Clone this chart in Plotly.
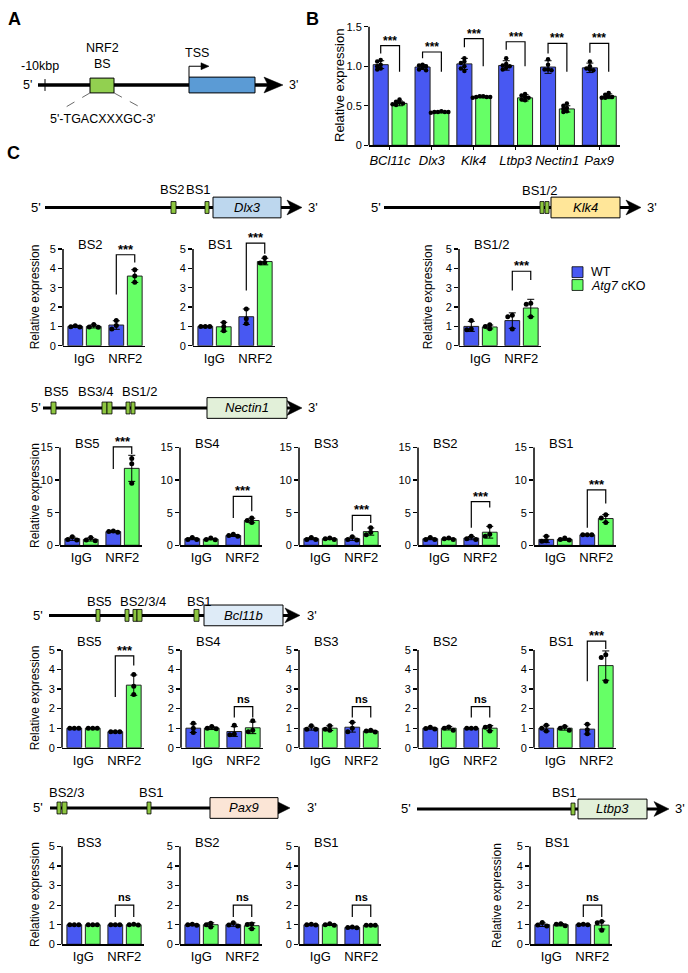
import plotly.graph_objects as go

W, H = 688, 973
FONT = "Liberation Sans, Arial, Helvetica, sans-serif"
BLUE = "#4858F2"
GREEN = "#66FF66"
EDGE = "#222222"
BS_GREEN = "#8DC63F"

# ======================= DATA =======================
# ---- Panel B ----
B_GENES = ["BCl11c", "Dlx3", "Klk4", "Ltbp3", "Nectin1", "Pax9"]
B_WT_MEAN = [1.02, 0.99, 1.03, 1.01, 0.99, 0.98]
B_KO_MEAN = [0.53, 0.42, 0.61, 0.60, 0.46, 0.62]
B_WT_SD = [0.05, 0.03, 0.07, 0.06, 0.08, 0.06]
B_KO_SD = [0.03, 0.01, 0.01, 0.04, 0.04, 0.03]
B_WT_PTS = [[1.08, 1.06, 1.02, 1.00, 0.97, 0.96],
            [1.02, 1.01, 1.00, 0.98, 0.96, 0.95],
            [1.10, 1.06, 1.04, 1.00, 0.97, 0.94],
            [1.10, 1.03, 1.01, 1.00, 0.98, 0.96],
            [1.09, 1.02, 0.96, 0.96, 0.95],
            [1.06, 1.00, 0.97, 0.96, 0.95]]
B_KO_PTS = [[0.58, 0.55, 0.54, 0.53, 0.52, 0.51],
            [0.43, 0.42, 0.42, 0.42, 0.42, 0.41],
            [0.62, 0.62, 0.61, 0.61, 0.61, 0.60],
            [0.65, 0.63, 0.61, 0.60, 0.58, 0.57],
            [0.53, 0.50, 0.47, 0.46, 0.43, 0.42],
            [0.66, 0.64, 0.62, 0.61, 0.60, 0.60]]
B_SIG = ["***", "***", "***", "***", "***", "***"]

# ---- Panel C (each entry: [IgG, NRF2]) ----
C_GROUPS = ["IgG", "NRF2"]

DLX3_SITES = ["BS2", "BS1"]
DLX3_WT = [[1.0, 1.07], [1.0, 1.5]]
DLX3_KO = [[1.0, 3.6], [0.98, 4.35]]
DLX3_WT_SD = [[0.05, 0.22], [0.03, 0.4]]
DLX3_KO_SD = [[0.08, 0.33], [0.23, 0.17]]
DLX3_WT_PTS = [[[1.03, 0.98, 0.97], [1.3, 1.05, 0.87]], [[1.0, 1.0, 1.0], [1.9, 1.4, 1.15]]]
DLX3_KO_PTS = [[[1.1, 0.97, 0.95], [3.92, 3.6, 3.28]], [[1.2, 0.98, 0.77], [4.55, 4.3, 4.28]]]
DLX3_SIG = ["***", "***"]

KLK4_SITES = ["BS1/2"]
KLK4_WT = [[1.0, 1.3]]
KLK4_KO = [[0.97, 1.95]]
KLK4_WT_SD = [[0.26, 0.4]]
KLK4_KO_SD = [[0.1, 0.45]]
KLK4_WT_PTS = [[[1.3, 0.87, 0.83], [1.57, 1.5, 0.87]]]
KLK4_KO_PTS = [[[1.08, 1.0, 0.88], [2.2, 2.15, 1.5]]]
KLK4_SIG = ["***"]

NECTIN1_SITES = ["BS5", "BS4", "BS3", "BS2", "BS1"]
NECTIN1_WT = [[1.0, 2.1], [1.0, 1.5], [1.0, 1.0], [1.0, 1.1], [0.9, 1.6]]
NECTIN1_KO = [[0.9, 11.8], [0.95, 3.8], [1.0, 2.1], [1.0, 2.0], [0.9, 4.1]]
NECTIN1_WT_SD = [[0.25, 0.1], [0.15, 0.15], [0.15, 0.25], [0.15, 0.25], [0.5, 0.05]]
NECTIN1_KO_SD = [[0.25, 2.0], [0.1, 0.35], [0.1, 0.55], [0.1, 0.9], [0.15, 0.6]]
NECTIN1_WT_PTS = [[[1.3, 0.9, 0.8], [2.2, 2.1, 2.0]],
                  [[1.2, 0.9, 0.9], [1.7, 1.5, 1.4]],
                  [[1.2, 0.9, 0.9], [1.3, 0.9, 0.8]],
                  [[1.2, 0.9, 0.9], [1.4, 1.0, 0.9]],
                  [[1.4, 0.7, 0.6], [1.6, 1.6, 1.6]]]
NECTIN1_KO_PTS = [[[1.2, 0.8, 0.7], [13.3, 12.5, 9.5]],
                  [[1.1, 0.9, 0.85], [4.2, 3.8, 3.5]],
                  [[1.1, 1.0, 0.9], [2.7, 2.0, 1.6]],
                  [[1.1, 1.0, 0.9], [2.9, 1.7, 1.4]],
                  [[1.1, 0.9, 0.8], [4.7, 4.2, 3.5]]]
NECTIN1_SIG = ["***", "***", "***", "***", "***"]

BCL11B_SITES = ["BS5", "BS4", "BS3", "BS2", "BS1"]
BCL11B_WT = [[1.0, 0.82], [1.0, 0.83], [1.0, 1.05], [1.0, 1.0], [1.0, 0.95]]
BCL11B_KO = [[1.0, 3.2], [1.0, 1.02], [1.0, 0.85], [1.0, 1.0], [1.0, 4.2]]
BCL11B_WT_SD = [[0.02, 0.02], [0.22, 0.25], [0.1, 0.25], [0.05, 0.01], [0.15, 0.25]]
BCL11B_KO_SD = [[0.02, 0.52], [0.07, 0.3], [0.12, 0.05], [0.09, 0.13], [0.1, 0.75]]
BCL11B_WT_PTS = [[[1.0, 1.0, 1.0], [0.82, 0.82, 0.82]],
                 [[1.25, 1.0, 0.78], [1.15, 0.7, 0.66]],
                 [[1.12, 0.95, 0.94], [1.3, 1.0, 0.82]],
                 [[1.05, 0.98, 0.96], [1.0, 1.0, 1.0]],
                 [[1.15, 1.0, 0.85], [1.2, 0.92, 0.72]]]
BCL11B_KO_PTS = [[[1.0, 1.0, 1.0], [3.75, 3.15, 2.72]],
                 [[1.08, 1.0, 0.97], [1.38, 0.9, 0.82]],
                 [[1.12, 0.95, 0.9], [0.9, 0.85, 0.8]],
                 [[1.06, 1.0, 0.9], [1.1, 1.05, 0.85]],
                 [[1.08, 1.0, 0.9], [4.75, 4.62, 3.4]]]
BCL11B_SIG = ["***", "ns", "ns", "ns", "***"]

PAX9_SITES = ["BS3", "BS2", "BS1"]
PAX9_WT = [[1.0, 1.0], [1.0, 1.0], [1.0, 0.86]]
PAX9_KO = [[1.0, 1.0], [1.0, 0.95], [1.0, 0.97]]
PAX9_WT_SD = [[0.01, 0.02], [0.04, 0.08], [0.03, 0.03]]
PAX9_KO_SD = [[0.01, 0.02], [0.1, 0.15], [0.04, 0.01]]
PAX9_WT_PTS = [[[1.0, 1.0, 1.0], [1.0, 1.0, 1.0]],
               [[1.03, 1.0, 0.97], [1.1, 0.98, 0.93]],
               [[1.02, 1.0, 0.98], [0.88, 0.86, 0.84]]]
PAX9_KO_PTS = [[[1.0, 1.0, 1.0], [1.02, 1.0, 0.99]],
               [[1.08, 1.0, 0.88], [1.04, 1.01, 0.8]],
               [[1.05, 1.0, 0.97], [0.97, 0.97, 0.97]]]
PAX9_SIG = ["ns", "ns", "ns"]

LTBP3_SITES = ["BS1"]
LTBP3_WT = [[1.0, 1.01]]
LTBP3_KO = [[1.0, 0.98]]
LTBP3_WT_SD = [[0.09, 0.03]]
LTBP3_KO_SD = [[0.06, 0.2]]
LTBP3_WT_PTS = [[[1.12, 0.98, 0.94], [1.03, 1.0, 1.0]]]
LTBP3_KO_PTS = [[[1.05, 1.02, 0.95], [1.16, 1.1, 0.72]]]
LTBP3_SIG = ["ns"]

# ======================= LAYOUT CONFIG (pixels) =======================
shapes, annotations, traces = [], [], []
layout_axes = {}


def PX(x):
    return x / W


def PY(y):
    return 1 - y / H


def text(x, y, s, size=13, xa="center", ya="middle", angle=0, bold=False):
    if bold:
        s = "<b>" + s + "</b>"
    annotations.append(dict(xref="paper", yref="paper", x=PX(x), y=PY(y), text=s,
                            showarrow=False, xanchor=xa, yanchor=ya, textangle=angle,
                            font=dict(family=FONT, size=size, color="black")))


def rect(x0, y0, x1, y1, fill, lw=1.0, lc="black"):
    shapes.append(dict(type="rect", xref="paper", yref="paper", x0=PX(x0), x1=PX(x1),
                       y0=PY(y1), y1=PY(y0), fillcolor=fill, line=dict(color=lc, width=lw),
                       layer="above"))


def line(x0, y0, x1, y1, lw=1.0, color="black", dash="solid"):
    shapes.append(dict(type="line", xref="paper", yref="paper", x0=PX(x0), x1=PX(x1),
                       y0=PY(y0), y1=PY(y1), line=dict(color=color, width=lw, dash=dash),
                       layer="above"))


def poly(pts, fill="black"):
    d = "M " + " L ".join(f"{PX(x):.5f},{PY(y):.5f}" for x, y in pts) + " Z"
    shapes.append(dict(type="path", xref="paper", yref="paper", path=d, fillcolor=fill,
                       line=dict(color=fill, width=0.5), layer="above"))


def arrow_head(tip, y, length=16, half=8):
    poly([(tip, y), (tip - length, y - half), (tip - length + 4, y), (tip - length, y + half)])


def gene_diagram(x0, tip, y, bs_boxes, bs_h, gx0, gx1, gh, fill, name, five_x, three_x, labels):
    line(x0, y, tip - 10, y, lw=3)
    arrow_head(tip, y, 15, 7.5)
    for a, b in bs_boxes:
        rect(a, y - bs_h / 2, b, y + bs_h / 2, BS_GREEN, lw=0.8)
    rect(gx0, y - gh / 2, gx1, y + gh / 2, fill, lw=1)
    text((gx0 + gx1) / 2, y, "<i>" + name + "</i>", size=13)
    text(five_x, y, "5'", size=13)
    text(three_x, y, "3'", size=13)
    for s, lx, ly in labels:
        text(lx, ly, s, size=13)


def swarm(vals, ppu_y, ppu_x, d):
    placed, offs = [], []
    for v in vals:
        yy = v * ppu_y
        chosen = 0
        for cand in [0, -d, d, -2 * d, 2 * d, -3 * d, 3 * d]:
            if all((cand - px) ** 2 + (yy - py) ** 2 >= (0.85 * d) ** 2 for px, py in placed):
                chosen = cand
                break
        placed.append((chosen, yy))
        offs.append(chosen / ppu_x)
    return offs


def axis_names(n):
    return ("x" if n == 1 else f"x{n}", "y" if n == 1 else f"y{n}",
            "xaxis" if n == 1 else f"xaxis{n}", "yaxis" if n == 1 else f"yaxis{n}")


def chart(n, cats, wt, ko, wt_sd, ko_sd, wt_pts, ko_pts, x0, xw, xr, y0, ppu, yticks, yticktext,
          ymax_range, xfont, xticks, dot, dsize):
    xa, ya, xk, yk = axis_names(n)
    ncat = len(cats)
    xppu = xw / (xr[1] - xr[0])
    ytop_px = y0 - ymax_range * ppu
    layout_axes[xk] = dict(domain=[PX(x0), PX(x0 + xw)], range=xr, anchor=ya,
                           tickvals=list(range(ncat)), ticktext=cats, showline=True,
                           linecolor="black", linewidth=1.5, showgrid=False, zeroline=False,
                           ticks=xticks, ticklen=3, tickcolor="black", tickwidth=1,
                           tickfont=xfont, fixedrange=True)
    layout_axes[yk] = dict(domain=[PY(y0), PY(ytop_px)], range=[0, ymax_range], anchor=xa,
                           tickvals=yticks, ticktext=yticktext, showline=False, showgrid=False,
                           zeroline=False, ticks="outside", ticklen=4, tickwidth=1.2,
                           tickcolor="black", tickfont=dict(family=FONT, size=11, color="black"),
                           fixedrange=True)
    shapes.append(dict(type="line", xref=f"{xa} domain", yref=f"{ya} domain", x0=0, x1=0,
                       y0=0, y1=yticks[-1] / ymax_range, line=dict(color="black", width=1.5),
                       layer="above"))
    for vals, sd, pts, off, col in [(wt, wt_sd, wt_pts, -0.22, BLUE), (ko, ko_sd, ko_pts, 0.23, GREEN)]:
        xs = [i + off for i in range(ncat)]
        traces.append(go.Bar(x=xs, y=vals, width=0.36, xaxis=xa, yaxis=ya,
                             marker=dict(color=col, line=dict(color=EDGE, width=1)),
                             error_y=dict(type="data", array=sd, visible=True, color="black",
                                          thickness=1, width=3.5),
                             showlegend=False, hoverinfo="skip"))
        px_, py_ = [], []
        for i, p in enumerate(pts):
            offs = swarm(p, ppu, xppu, dot)
            for v, o in zip(p, offs):
                px_.append(i + off + o)
                py_.append(v)
        traces.append(go.Scatter(x=px_, y=py_, mode="markers", xaxis=xa, yaxis=ya,
                                 marker=dict(color="black", size=dsize), showlegend=False,
                                 hoverinfo="skip", cliponaxis=False))
    return xa, ya


def bracket(xa, ya, xl, xr, top, lend, rend, label, size=13):
    shapes.append(dict(type="path", xref=xa, yref=ya,
                       path=f"M {xl},{lend} L {xl},{top} L {xr},{top} L {xr},{rend}",
                       line=dict(color="black", width=1.2), layer="above"))
    star = label == "***"
    annotations.append(dict(xref=xa, yref=ya, x=(xl + xr) / 2, y=top,
                            text="<b>" + label + "</b>",
                            showarrow=False, xanchor="center", yanchor="bottom",
                            yshift=-4 if star else 0,
                            font=dict(family=FONT, size=size if star else 11, color="black")))


# ---------------- Panel A ----------------
text(14, 13, "A", size=18, bold=True)
line(38, 80, 270, 80, lw=3.5)
arrow_head(283, 80, 19, 8)
line(45, 74, 45, 86, lw=1)
text(40, 61, "-10kbp", size=12.5)
text(27, 80, "5'", size=12.5)
text(293, 80, "3'", size=12.5)
line(90, 88, 63, 104, lw=0.8, color="#444", dash="dash")
line(114, 88, 143, 104, lw=0.8, color="#444", dash="dash")
rect(90, 73, 114, 88, "#92D050", lw=1)
rect(189, 72, 255, 88, "#5B9BD5", lw=1)
text(102, 43, "NRF2", size=12.5)
text(102, 59, "BS", size=12.5)
line(189, 72, 189, 61, lw=1)
line(189, 61, 202, 61, lw=1)
poly([(209, 61), (201, 57.5), (201, 64.5)])
text(197, 48, "TSS", size=12.5)
text(103, 114, "5'-TGACXXXGC-3'", size=12.5)

# ---------------- Panel B ----------------
text(312, 13, "B", size=18, bold=True)
B_SIG_GEOM = [(1.26, 1.16, 0.93), (1.18, 1.10, 0.93), (1.35, 1.24, 1.0),
              (1.31, 1.21, 1.0), (1.29, 1.16, 0.93), (1.29, 1.17, 0.93)]
xa, ya = chart(1, ["<i>" + g + "</i>" for g in B_GENES], B_WT_MEAN, B_KO_MEAN, B_WT_SD, B_KO_SD,
               B_WT_PTS, B_KO_PTS, 369, 251, [-0.5, 5.5], 141, 80, [0, 0.5, 1.0, 1.5],
               ["0", "0.5", "1.0", "1.5"], 1.5, dict(family=FONT, size=13, color="black"),
               "outside", 3.5, 4.5)
for i, (t, l, r) in enumerate(B_SIG_GEOM):
    bracket(xa, ya, i - 0.22, i + 0.23, t, l, r, B_SIG[i], size=12)
text(339, 81, "Relative expression", size=13, angle=-90)

# ---------------- Panel C ----------------
text(13, 149, "C", size=18, bold=True)

gene_diagram(45, 302, 204, [(171, 176), (205, 209)], 12, 213, 281, 21, "#BDD7EE", "Dlx3", 36, 313,
             [("BS2", 172, 186), ("BS1", 198, 186)])
gene_diagram(384, 641, 204, [(540, 544), (545, 549)], 12, 551, 620, 21, "#FFE699", "Klk4", 376, 652,
             [("BS1/2", 539, 187)])
gene_diagram(43, 302, 407, [(51, 56), (102, 107), (107, 112), (126, 130), (131, 135)], 12,
             207, 287, 21, "#E2F0D9", "Nectin1", 36, 313,
             [("BS5", 57, 390), ("BS3/4", 95, 390), ("BS1/2", 139, 390)])
gene_diagram(49, 300, 617, [(96, 100), (125, 129), (133, 137), (137, 142), (194, 199)], 12,
             204, 283, 21, "#DEEBF7", "Bcl11b", 38, 312,
             [("BS5", 99, 603), ("BS2/3/4", 143, 603), ("BS1", 199, 603)])
gene_diagram(50, 290, 812, [(57, 61), (62, 67), (147, 151)], 12, 210, 278, 21, "#FBE5D6", "Pax9",
             38, 312, [("BS2/3", 66, 796), ("BS1", 151, 796)])
gene_diagram(417, 669, 813, [(571, 575)], 12, 578, 647, 20, "#E2F0D9", "Ltbp3", 406, 680,
             [("BS1", 564, 796)])

XF = dict(family=FONT, size=13, color="black")
T5 = [0, 1, 2, 3, 4, 5]
T15 = [0, 5, 10, 15]

# (gene arrays, site index, axis-left px, zero px, px/unit, ticks, y-range top, title y px, bracket geometry)
C_PANELS = [
    ("DLX3", 0, 63, 344, 19.6, T5, 5.6, 241, (4.7, 2.65, 4.3)),
    ("DLX3", 1, 193, 344, 19.6, T5, 5.6, 241, (5.3, 2.85, 4.75)),
    ("KLK4", 0, 459, 344, 19.6, T5, 5.6, 241, (3.85, 2.85, 3.4)),
    ("NECTIN1", 0, 60, 546, 6.6, T15, 16.5, 443, (15.1, 11.7, 14.0)),
    ("NECTIN1", 1, 180, 546, 6.6, T15, 16.5, 443, (7.5, 4.2, 5.2)),
    ("NECTIN1", 2, 299, 546, 6.6, T15, 16.5, 443, (4.6, 2.2, 3.4)),
    ("NECTIN1", 3, 418, 546, 6.6, T15, 16.5, 443, (6.7, 2.7, 5.8)),
    ("NECTIN1", 4, 534, 546, 6.6, T15, 16.5, 443, (8.5, 2.7, 6.4)),
    ("BCL11B", 0, 62, 751, 19.8, T5, 5.6, 643, (4.7, 2.6, 4.2)),
    ("BCL11B", 1, 181, 751, 19.8, T5, 5.6, 643, (2.1, 1.55, 1.55)),
    ("BCL11B", 2, 299, 751, 19.8, T5, 5.6, 643, (2.1, 1.55, 1.55)),
    ("BCL11B", 3, 418, 751, 19.8, T5, 5.6, 643, (2.1, 1.55, 1.55)),
    ("BCL11B", 4, 534, 751, 19.8, T5, 5.6, 643, (5.45, 3.4, 5.05)),
    ("PAX9", 0, 62, 950, 19.8, T5, 5.6, 847, (2.0, 1.4, 1.4)),
    ("PAX9", 1, 180, 950, 19.8, T5, 5.6, 847, (2.0, 1.4, 1.4)),
    ("PAX9", 2, 299, 950, 19.8, T5, 5.6, 847, (2.0, 1.4, 1.4)),
    ("LTBP3", 0, 530, 950, 19.8, T5, 5.6, 847, (2.0, 1.4, 1.4)),
]

G = globals()
n = 2
for gname, k, x0, y0, ppu, ticks, ytop, ty, (bt, bl, br) in C_PANELS:
    xa, ya = chart(n, C_GROUPS, G[gname + "_WT"][k], G[gname + "_KO"][k],
                   G[gname + "_WT_SD"][k], G[gname + "_KO_SD"][k],
                   G[gname + "_WT_PTS"][k], G[gname + "_KO_PTS"][k],
                   x0, 82, [-0.52, 1.48], y0, ppu, ticks, [str(t) for t in ticks], ytop, XF, "",
                   4.5, 5)
    bracket(xa, ya, 1 - 0.22, 1 + 0.23, bt, bl, br, G[gname + "_SIG"][k])
    text(x0 + 13, ty, G[gname + "_SITES"][k], size=13, xa="left")
    n += 1

# y titles for panel C
for x, y in [(35, 295), (428, 295), (35, 496), (35, 701), (35, 900), (497, 900)]:
    text(x, y, "Relative expression", size=12, angle=-90)

# legend
rect(572, 264, 583, 275, BLUE, lw=0.8)
text(589, 269, "WT", size=12.5, xa="left")
rect(572, 277, 583, 288, GREEN, lw=0.8)
text(589, 283.5, "<i>Atg7</i> cKO", size=12.5, xa="left")

fig = go.Figure(data=traces)
fig.update_layout(width=W, height=H, margin=dict(l=0, r=0, t=0, b=0), autosize=False,
                  paper_bgcolor="white", plot_bgcolor="rgba(0,0,0,0)", barmode="overlay",
                  showlegend=False, shapes=shapes, annotations=annotations,
                  font=dict(family=FONT, size=12, color="black"), **layout_axes)
fig.write_html("out.html", config={"displayModeBar": False, "staticPlot": True},
               post_script="document.body.style.margin='0';")
